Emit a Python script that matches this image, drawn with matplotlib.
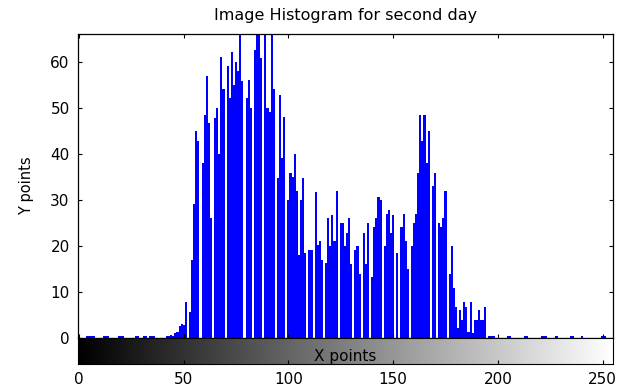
import numpy as np
import matplotlib.pyplot as plt

# grey levels with only a few pixels (left and right tails)
low_levels = [4, 5, 6, 7, 12, 13, 14, 19, 20, 21, 27, 28, 31, 32, 34, 35, 36,
              42, 43, 44, 45, 46, 47]
low_values = [0.4, 0.4, 0.4, 0.4, 0.4, 0.4, 0.4, 0.4, 0.4, 0.4, 0.4, 0.4, 0.4,
              0.4, 0.4, 0.4, 0.4, 0.4, 0.5, 0.6, 0.4, 1.0, 1.2]
high_levels = [196, 197, 198, 205, 206, 213, 214, 221, 222, 223, 228, 235, 236,
               240, 250, 251]
high_values = [0.4] * len(high_levels)

# main body of the histogram, levels 48..195
main_start = 48
main_values = [
    2.5, 3.0, 2.8, 7.9, 0, 5.7, 17, 29, 45, 42.7,            # 48-57
    0, 38, 48.5, 56.8, 46.7, 26, 0, 47.8, 50, 40,            # 58-67
    61, 54, 0, 59, 52, 62, 55, 60, 58, 66,                   # 68-77
    55.7, 0, 52, 56, 50, 0, 62.6, 66, 66, 60.8,              # 78-87
    0, 66, 50, 49, 66, 54, 0, 34.8, 52.8, 39,                # 88-97
    48, 0, 30, 35.8, 35, 40, 32, 18, 30, 34.8,               # 98-107
    18.4, 0, 19, 19, 0, 31.8, 20.2, 21, 17, 0,               # 108-117
    16.2, 26, 20, 26.7, 21, 32, 0, 25, 25, 20,               # 118-127
    22.8, 26, 16, 0, 19, 20, 14, 0, 22.8, 16,                # 128-137
    25, 0, 13.3, 24, 26, 30.7, 30, 0, 20, 27,                # 138-147
    27.8, 22.8, 26.7, 0, 18.4, 0, 24, 27, 21, 15,            # 148-157
    0, 20, 25, 27, 35.8, 48.5, 42.7, 48.5, 38, 45,           # 158-167
    0, 33, 35.8, 0, 25, 24, 26, 32, 0, 14,                   # 168-177
    20, 10.8, 6.8, 2.2, 6, 3.9, 7.9, 6.8, 1.4, 7.9,          # 178-187
    1, 3.9, 3.9, 6, 3.9, 3.9, 6.8, 0,                        # 188-195
]

counts = np.zeros(256)
counts[low_levels] = low_values
counts[high_levels] = high_values
counts[main_start:main_start + len(main_values)] = main_values
levels = np.arange(256)

plt.rcParams["font.family"] = ["DejaVu Sans"]

fig = plt.figure(figsize=(6.27, 3.89), dpi=100)
W, H = 627, 389
ax = fig.add_axes([78 / W, 1 - 338 / H, (613 - 78) / W, (338 - 34) / H])
cax = fig.add_axes([78 / W, 1 - 364 / H, (613 - 78) / W, (364 - 338) / H])

ax.bar(levels, counts, width=1.0, color="#0000ff", linewidth=0)
ax.set_xlim(-0.5, 255)
ax.set_ylim(0, 66)
ax.set_yticks(np.arange(0, 61, 10))
ax.set_xticks(np.arange(0, 251, 50))
ax.tick_params(direction="in", top=True, right=True, length=3, labelsize=11,
               labelbottom=False, pad=6)
ax.set_ylabel("Y points", fontsize=10.5, labelpad=12)
ax.set_title("Image Histogram for second day", fontsize=11.5, pad=10)
for s in ax.spines.values():
    s.set_linewidth(0.9)

# grey-level colour bar under the histogram
grad = np.linspace(0, 1, 256).reshape(1, -1)
cax.imshow(grad, cmap="gray", aspect="auto", extent=[-0.5, 255, 0, 1])
cax.set_xlim(-0.5, 255)
cax.set_yticks([])
cax.set_xticks(np.arange(0, 251, 50))
cax.tick_params(direction="in", length=3, labelsize=11, pad=6)
cax.text(0.5, 0.28, "X points", transform=cax.transAxes, ha="center",
         va="center", fontsize=11, clip_on=True)

fig.savefig("out.png", dpi=100)
